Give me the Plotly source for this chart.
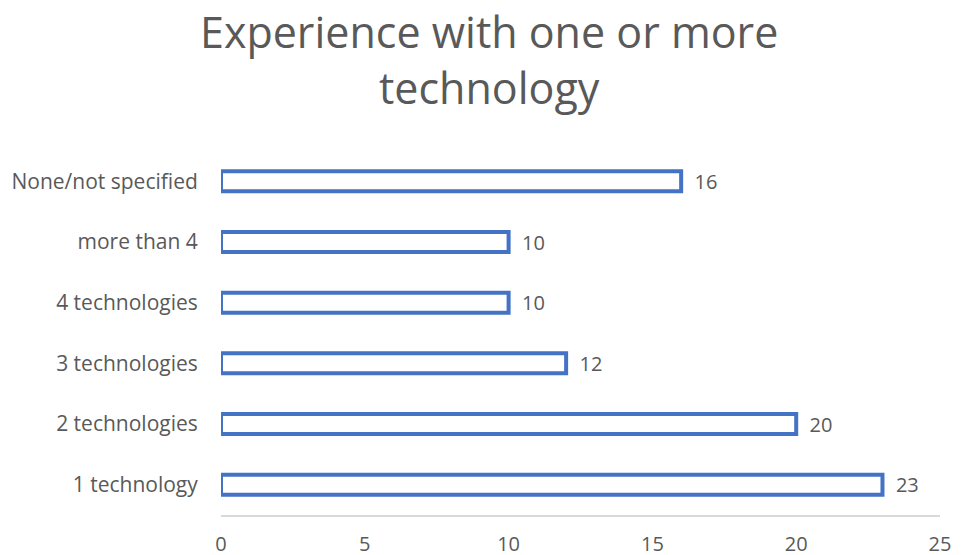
import plotly.graph_objects as go

categories = ["1 technology", "2 technologies", "3 technologies", "4 technologies", "more than 4", "None/not specified"]
values = [23, 20, 12, 10, 10, 16]
x_ticks = [0, 5, 10, 15, 20, 25]
title_text = "Experience with one or more<br>technology"

FONT = "Open Sans, sans-serif"
GRAY = "#595959"

fig = go.Figure(go.Bar(
    y=categories, x=values, orientation="h",
    marker=dict(color="white", line=dict(color="#4472C4", width=4)),
    width=0.33,
    text=values, texttemplate="  %{text}", textposition="outside",
    constraintext="none",
    textfont=dict(family=FONT, size=20, color=GRAY),
    cliponaxis=False,
))

fig.update_layout(
    width=962, height=555,
    paper_bgcolor="white", plot_bgcolor="white",
    margin=dict(l=213, r=30, t=143, b=48),
    showlegend=False,
    annotations=[dict(text=title_text, xref="paper", yref="paper",
                      x=0.373, y=1.252, xanchor="center", yanchor="middle",
                      showarrow=False, align="center",
                      font=dict(family=FONT, size=43, color=GRAY))],
    xaxis=dict(range=[0, 25], tickvals=x_ticks, showgrid=False, zeroline=False,
               showline=True, linecolor="#D9D9D9", linewidth=1.5, automargin=False,
               ticks="outside", ticklen=10, tickcolor="rgba(0,0,0,0)",
               tickfont=dict(family=FONT, size=20, color=GRAY)),
    yaxis=dict(showgrid=False, zeroline=False, showline=False, automargin=False,
               ticks="outside", ticklen=18, tickcolor="rgba(0,0,0,0)",
               tickfont=dict(family=FONT, size=21, color=GRAY)),
)

fig.write_html("out.html")
